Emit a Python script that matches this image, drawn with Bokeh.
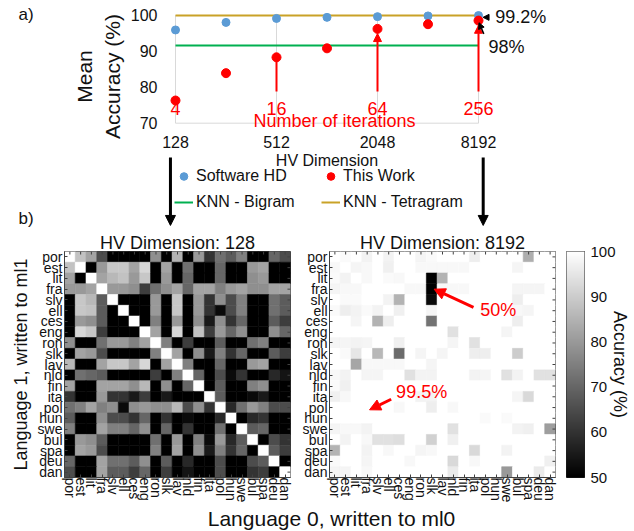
import math
from bokeh.plotting import figure
from bokeh.layouts import column, row
from bokeh.models import (Range1d, FactorRange, FixedTicker, PrintfTickFormatter, Arrow,
                          NormalHead, Label, Legend, LegendItem, ColumnDataSource,
                          LinearColorMapper, ColorBar)
from bokeh.embed import file_html
from bokeh.resources import INLINE
from bokeh.core.properties import value

FONT = "Liberation Sans"
TXT = "#111111"
RED = "#FF0000"

# ---------------- panel a) data ----------------
hv_dims = [128, 256, 512, 1024, 2048, 4096, 8192]
software_hd = [95.9, 98.0, 99.1, 99.4, 99.6, 99.8, 99.9]
this_work = [76.3, 83.9, 88.3, 90.8, 96.2, 97.5, 98.5]
knn_bigram = 91.6
knn_tetragram = 99.95
x_ticks = [128, 512, 2048, 8192]
y_ticks = [70, 80, 90, 100]
iter_dims = [128, 512, 2048, 8192]
iter_labels = ["4", "16", "64", "256"]
sw_note = "99.2%"
tw_note = "98%"

# ---------------- panel b) data ----------------
langs = ["por", "est", "lit", "fra", "slv", "ell", "ces", "eng", "ron", "slk", "lav",
         "nld", "fin", "ita", "pol", "hun", "swe", "bul", "spa", "deu", "dan"]

acc_128 = [
    [100, 88, 82, 65, 50, 50, 50, 50, 78, 50, 85, 50, 80, 60, 72, 68, 75, 50, 50, 70, 65],
    [88, 100, 50, 80, 89, 89, 82, 92, 50, 82, 50, 72, 50, 50, 70, 50, 50, 80, 82, 50, 50],
    [82, 50, 100, 82, 86, 88, 80, 89, 50, 80, 50, 70, 50, 50, 70, 50, 50, 78, 80, 50, 50],
    [80, 80, 82, 100, 80, 80, 78, 62, 72, 78, 82, 70, 82, 82, 75, 80, 82, 78, 78, 82, 82],
    [50, 89, 86, 68, 100, 50, 50, 50, 80, 50, 89, 50, 80, 60, 78, 65, 75, 50, 50, 72, 68],
    [50, 89, 88, 68, 50, 100, 50, 50, 80, 50, 89, 50, 80, 60, 52, 65, 75, 50, 50, 72, 68],
    [50, 80, 78, 68, 50, 50, 100, 50, 75, 50, 80, 50, 78, 55, 78, 60, 70, 50, 50, 68, 62],
    [50, 92, 89, 62, 50, 50, 50, 100, 82, 50, 92, 50, 88, 62, 80, 70, 78, 50, 50, 78, 70],
    [78, 50, 50, 72, 80, 80, 75, 82, 100, 75, 50, 62, 50, 50, 68, 50, 50, 72, 75, 50, 50],
    [50, 82, 80, 65, 50, 50, 50, 50, 75, 100, 82, 50, 78, 55, 75, 60, 70, 50, 50, 68, 62],
    [86, 50, 50, 82, 89, 89, 82, 92, 50, 82, 100, 75, 50, 50, 70, 50, 50, 80, 82, 50, 50],
    [50, 72, 70, 68, 50, 50, 50, 50, 62, 50, 75, 100, 70, 50, 65, 52, 60, 50, 50, 58, 54],
    [82, 50, 50, 82, 82, 82, 78, 86, 50, 78, 50, 70, 100, 50, 68, 50, 50, 75, 78, 50, 50],
    [60, 50, 50, 80, 60, 60, 55, 62, 50, 55, 50, 50, 50, 100, 68, 50, 50, 52, 55, 50, 50],
    [72, 75, 82, 75, 78, 52, 78, 80, 78, 78, 86, 65, 78, 60, 100, 58, 72, 80, 75, 65, 65],
    [68, 50, 50, 78, 65, 65, 60, 70, 50, 60, 50, 52, 50, 50, 58, 100, 50, 58, 60, 50, 50],
    [75, 50, 50, 82, 75, 75, 70, 78, 50, 70, 50, 60, 50, 50, 72, 50, 100, 68, 70, 50, 50],
    [50, 80, 78, 68, 50, 50, 50, 50, 72, 50, 80, 50, 75, 52, 80, 58, 68, 100, 50, 65, 60],
    [50, 82, 80, 65, 50, 50, 50, 50, 75, 50, 82, 50, 78, 55, 75, 60, 70, 50, 100, 68, 62],
    [70, 50, 50, 82, 72, 72, 68, 78, 50, 68, 50, 58, 50, 50, 65, 50, 50, 65, 68, 100, 50],
    [65, 50, 50, 82, 68, 68, 62, 70, 50, 62, 50, 54, 50, 50, 65, 50, 50, 60, 62, 50, 100],
]

acc_8192 = [
    [100, 99, 100, 97.5, 100, 97.5, 100, 100, 98, 99, 100, 100, 100, 96.5, 100, 100, 100, 100, 84, 100, 100],
    [98.5, 100, 98, 98.5, 100, 97, 100, 100, 98.5, 98.5, 98.5, 98.5, 98.5, 100, 100, 100, 100, 98, 100, 100, 100],
    [99, 97.5, 100, 98.5, 100, 99, 98.5, 100, 100, 50, 85, 100, 100, 100, 100, 100, 100, 100, 100, 100, 100],
    [98, 98.5, 98.5, 100, 100, 100, 100, 98.5, 98.5, 50, 98.5, 98.5, 98.5, 100, 100, 100, 100, 98, 98, 98, 100],
    [100, 99, 99, 100, 100, 97.5, 85, 100, 100, 52, 100, 100, 100, 100, 100, 100, 100, 96.5, 100, 100, 100],
    [99, 96.5, 97.5, 99, 97.5, 100, 97, 100, 100, 98, 100, 100, 100, 100, 99, 100, 100, 98.5, 98, 100, 100],
    [100, 100, 98, 100, 85, 96.5, 100, 100, 100, 72.5, 100, 100, 100, 100, 100, 100, 100, 96.5, 100, 100, 100],
    [100, 100, 100, 100, 100, 100, 100, 100, 100, 100, 100, 94, 100, 100, 100, 100, 98, 100, 100, 100, 100],
    [98, 98, 97.5, 98, 100, 100, 97, 100, 100, 100, 100, 98, 100, 94, 100, 100, 100, 100, 100, 100, 100],
    [100, 99, 95, 100, 86, 100, 71, 100, 98, 100, 98, 100, 100, 96.5, 96.5, 100, 100, 90, 100, 100, 100],
    [100, 100, 82.5, 98.5, 98.5, 98.5, 98.5, 100, 100, 98, 100, 100, 100, 100, 100, 100, 100, 100, 100, 100, 100],
    [98.5, 97.5, 100, 98, 98, 100, 100, 94, 97.5, 97.5, 100, 100, 100, 97.5, 98, 100, 94, 97.5, 100, 94, 94],
    [99, 97, 100, 100, 100, 100, 100, 100, 100, 100, 100, 100, 100, 100, 100, 100, 100, 100, 100, 100, 100],
    [97, 98.5, 100, 100, 100, 100, 100, 100, 97.5, 97.5, 100, 100, 100, 100, 100, 100, 100, 98, 92.5, 100, 100],
    [100, 100, 100, 100, 100, 100, 98.5, 100, 100, 96.5, 100, 98.5, 100, 100, 100, 100, 100, 100, 100, 100, 100],
    [100, 100, 100, 100, 100, 100, 100, 100, 100, 100, 100, 100, 100, 100, 99, 100, 99, 100, 100, 100, 100],
    [98, 98.5, 98.5, 97.5, 100, 100, 100, 100, 100, 100, 100, 94, 100, 100, 100, 100, 100, 97.5, 97, 100, 81],
    [100, 97.5, 100, 98.5, 94, 94, 93.5, 100, 100, 91, 100, 97, 100, 100, 100, 100, 100, 100, 100, 100, 100],
    [85, 100, 100, 97.5, 100, 98.5, 100, 100, 98, 98.5, 100, 100, 100, 92.5, 100, 100, 97.5, 100, 100, 100, 100],
    [99, 100, 100, 98, 100, 100, 100, 98.5, 100, 100, 100, 92.5, 100, 98.5, 100, 100, 100, 100, 100, 100, 97],
    [98, 98, 100, 98.5, 100, 100, 100, 100, 100, 100, 100, 96, 100, 100, 100, 100, 80, 100, 100, 96, 100],
]
cbar_ticks = [50, 60, 70, 80, 90, 100]

# =============== panel a) (frame spans the whole top strip) ===============
W, H_TOP = 634, 227
OCT_PX, UNIT_PX = 50.5, 3.6          # pixels per octave / per % point
X0_PX, Y100_PX, Y70_PX = 175, 14.7, 122.7
x_lo = x_ticks[0] * 2 ** (-X0_PX / OCT_PX)
x_hi = x_ticks[0] * 2 ** ((W - X0_PX) / OCT_PX)
y_lo = y_ticks[0] - (H_TOP - Y70_PX) / UNIT_PX
y_hi = y_ticks[-1] + Y100_PX / UNIT_PX

pa = figure(x_axis_type="log", x_range=Range1d(x_lo, x_hi), y_range=Range1d(y_lo, y_hi),
            frame_width=W, frame_height=H_TOP, min_border=0,
            toolbar_location=None, output_backend="svg", outline_line_color=None)
pa.xgrid.grid_line_color = None
pa.ygrid.grid_line_color = None

GRID = "#d9d9d9"
pa.segment(x0=x_ticks, y0=[y_ticks[0]] * len(x_ticks), x1=x_ticks, y1=[y_ticks[-1]] * len(x_ticks),
           line_color=GRID, line_width=1)
pa.segment(x0=[x_ticks[0]], y0=[y_ticks[0]], x1=[x_ticks[-1]], y1=[y_ticks[0]],
           line_color=GRID, line_width=1)

r_big = pa.line([hv_dims[0], hv_dims[-1]], [knn_bigram] * 2, line_color="#00B050", line_width=2)
r_tet = pa.line([hv_dims[0], hv_dims[-1]], [knn_tetragram] * 2, line_color="#C9A227", line_width=2)
r_sw = pa.scatter(hv_dims, software_hd, size=8, color="#5B9BD5")
r_tw = pa.scatter(hv_dims, this_work, size=9, color=RED)

# axes drawn inside the frame at fixed positions
pa.xaxis.ticker = FixedTicker(ticks=x_ticks)
pa.xaxis.formatter = PrintfTickFormatter(format="%d")
pa.yaxis.ticker = FixedTicker(ticks=y_ticks)
for ax in (pa.xaxis, pa.yaxis):
    ax.axis_line_color = None
    ax.major_tick_line_color = None
    ax.minor_tick_line_color = None
    ax.major_tick_in = 0
    ax.major_tick_out = 0
    ax.major_label_text_font = FONT
    ax.major_label_text_font_size = "16px"
    ax.major_label_text_color = TXT
    ax.axis_label_text_font = FONT
    ax.axis_label_text_font_style = "normal"
    ax.axis_label_text_color = TXT
pa.xaxis.fixed_location = y_ticks[0]
pa.xaxis.bounds = (x_ticks[0], x_ticks[-1])
pa.xaxis.major_label_standoff = 13
pa.xaxis.axis_label = "HV Dimension"
pa.xaxis.axis_label_text_font_size = "16px"
pa.xaxis.axis_label_standoff = 0
pa.yaxis.fixed_location = x_ticks[0]
pa.yaxis.bounds = (66, y_ticks[-1])
pa.yaxis.major_label_standoff = 18
pa.yaxis.axis_label = "Mean\nAccuracy (%)"
pa.yaxis.axis_label_text_font_size = "21px"
pa.yaxis.axis_label_standoff = 4

# iteration annotations
pa.text(x=iter_dims, y=[74.1] * len(iter_dims), text=iter_labels, text_color=RED,
        text_font=value(FONT), text_font_size="18px", text_align="center", text_baseline="middle")
pa.add_layout(Label(x=x_ticks[0] * 2 ** 3.15, y=70.5, text="Number of iterations", text_color=RED,
                    text_font=FONT, text_font_size="18px", text_align="center",
                    text_baseline="middle"))
for d in iter_dims[1:]:
    i = hv_dims.index(d)
    if d == 512:
        head, tip = None, this_work[i]
    else:
        head = NormalHead(size=8, fill_color=RED, line_color=RED)
        tip = this_work[i] - 1.3
    pa.add_layout(Arrow(end=head, x_start=d, y_start=78.8, x_end=d, y_end=tip,
                        line_color=RED, line_width=2))

# value call-outs at 8192
pa.add_layout(Arrow(end=NormalHead(size=6, fill_color="black", line_color="black"),
                    x_start=hv_dims[-1] * 2 ** 0.2, y_start=99.4,
                    x_end=hv_dims[-1] * 2 ** 0.09, y_end=99.4, line_color="black", line_width=1.5))
pa.add_layout(Label(x=hv_dims[-1] * 2 ** 0.33, y=99.4, text=sw_note, text_font=FONT,
                    text_font_size="18px", text_color=TXT, text_baseline="middle"))
pa.add_layout(Arrow(end=NormalHead(size=6, fill_color="black", line_color="black"),
                    x_start=hv_dims[-1] * 2 ** 0.105, y_start=94.8,
                    x_end=hv_dims[-1] * 2 ** 0.01, y_end=97.9, line_color="black", line_width=1.5))
pa.add_layout(Label(x=hv_dims[-1] * 2 ** 0.2, y=91.1, text=tw_note, text_font=FONT,
                    text_font_size="18px", text_color=TXT, text_baseline="middle"))

# arrows down to panel b)
for xa in (x_ticks[0] * 2 ** -0.1, x_ticks[-1] * 2 ** 0.093):
    pa.add_layout(Arrow(end=NormalHead(size=10, fill_color="black", line_color="black"),
                        x_start=xa, y_start=60.5, x_end=xa, y_end=41.6,
                        line_color="black", line_width=3))

# panel letters
pa.add_layout(Label(x=18, y=H_TOP - 14, x_units="screen", y_units="screen", text="a)",
                    text_font=FONT, text_font_size="17px", text_color=TXT, text_baseline="middle"))
pa.add_layout(Label(x=18, y=H_TOP - 218, x_units="screen", y_units="screen", text="b)",
                    text_font=FONT, text_font_size="17px", text_color=TXT, text_baseline="middle"))

legend = Legend(items=[LegendItem(label="Software HD", renderers=[r_sw]),
                       LegendItem(label="This Work", renderers=[r_tw]),
                       LegendItem(label="KNN - Bigram", renderers=[r_big]),
                       LegendItem(label="KNN - Tetragram", renderers=[r_tet])],
                location=(174, H_TOP - 212), orientation="horizontal", ncols=2,
                glyph_width=19, glyph_height=20, label_height=20, label_width=119,
                label_standoff=3, spacing=6, padding=0, margin=0,
                border_line_color=None, background_fill_alpha=0,
                label_text_font=FONT, label_text_font_size="16px", label_text_color=TXT)
pa.add_layout(legend)

# =============== panel b) ===============
grays = ["#%02x%02x%02x" % (v, v, v) for v in range(256)]
mapper = LinearColorMapper(palette=grays, low=50, high=100)
EDGE = "#404040"
TICK = 0.28   # inward tick length on the top/right edges, in cells


def style_axis(ax):
    ax.axis_line_color = EDGE
    ax.major_tick_line_color = EDGE
    ax.major_tick_in = 3
    ax.major_tick_out = 0
    ax.major_label_standoff = 2
    ax.major_label_text_font = FONT
    ax.major_label_text_font_size = "14px"
    ax.major_label_text_color = TXT
    ax.axis_label_text_font = FONT
    ax.axis_label_text_font_style = "normal"
    ax.axis_label_text_color = TXT


def heatmap(mat, title, b_left, b_right, b_top, b_bottom, ylabel=None):
    n = len(langs)
    src = ColumnDataSource(dict(
        x=[langs[c] for r in range(n) for c in range(n)],
        y=[langs[r] for r in range(n) for c in range(n)],
        acc=[mat[r][c] for r in range(n) for c in range(n)],
    ))
    h = figure(x_range=FactorRange(*langs), y_range=FactorRange(*langs[::-1]),
               frame_width=226, frame_height=226,
               min_border_left=b_left, min_border_right=b_right,
               min_border_top=b_top, min_border_bottom=b_bottom,
               toolbar_location=None, output_backend="svg", title=title,
               outline_line_color=EDGE)
    h.rect(x="x", y="y", width=1, height=1, source=src,
           fill_color={"field": "acc", "transform": mapper},
           line_color={"field": "acc", "transform": mapper}, line_width=0.6)
    # tick marks on the top and right edges
    h.segment(x0=langs, y0=[n] * n, x1=langs, y1=[n - TICK] * n, line_color=EDGE, line_width=1)
    h.segment(x0=[n] * n, y0=langs, x1=[n - TICK] * n, y1=langs, line_color=EDGE, line_width=1)
    h.grid.grid_line_color = None
    h.title.text_font = FONT
    h.title.text_font_size = "18px"
    h.title.text_font_style = "normal"
    h.title.text_color = TXT
    h.title.align = "center"
    h.title.standoff = -3
    style_axis(h.xaxis[0])
    style_axis(h.yaxis[0])
    h.xaxis[0].major_label_orientation = "vertical"
    h.xaxis[0].major_label_standoff = 0
    if ylabel:
        h.yaxis[0].axis_label = ylabel
        h.yaxis[0].axis_label_text_font_size = "18px"
        h.yaxis[0].axis_label_standoff = 4
    return h


h1 = heatmap(acc_128, "HV Dimension: 128", 64, 8, 22, 28, "Language 1, written to ml1")
h2 = heatmap(acc_8192, "HV Dimension: 8192", 31, 11, 24, 28)

# call-outs on the 8192 map (synthetic categorical coordinates)
h2.add_layout(Arrow(end=NormalHead(size=11, fill_color=RED, line_color=RED),
                    x_start=13.38, y_start=15.8, x_end=9.72, y_end=17.5,
                    line_color=RED, line_width=3))
h2.add_layout(Label(x=14.0, y=15.6, text="50%", text_font=FONT, text_font_size="18px",
                    text_color=RED, text_baseline="middle"))
h2.add_layout(Arrow(end=NormalHead(size=11, fill_color=RED, line_color=RED),
                    x_start=5.73, y_start=7.27, x_end=3.72, y_end=6.29,
                    line_color=RED, line_width=3))
h2.add_layout(Label(x=6.19, y=7.9, text="99.5%", text_font=FONT, text_font_size="18px",
                    text_color=RED, text_baseline="middle"))

# colour scale as its own narrow figure with a right-hand axis
cbf = figure(x_range=Range1d(0, 1), y_range=Range1d(cbar_ticks[0], cbar_ticks[-1]),
             frame_width=18, frame_height=226, min_border_left=0, min_border_right=50,
             min_border_top=24, min_border_bottom=28, y_axis_location="right",
             x_axis_location=None, toolbar_location=None, output_backend="svg",
             outline_line_color="#222222")
cbf.grid.visible = False
cbar = ColorBar(color_mapper=mapper, location=(0, 0), width=18, height=226, padding=0, margin=0,
                ticker=FixedTicker(ticks=[]), major_tick_line_color=None,
                bar_line_color=None, border_line_color=None, background_fill_alpha=0,
                label_standoff=0)
cbf.add_layout(cbar)
cbf.yaxis.ticker = FixedTicker(ticks=cbar_ticks)
cbf.yaxis.axis_line_color = None
cbf.yaxis.major_tick_in = 4
cbf.yaxis.major_tick_out = 0
cbf.yaxis.minor_tick_line_color = None
cbf.yaxis.major_tick_line_color = "#222222"
cbf.yaxis.major_label_standoff = 6
cbf.yaxis.major_label_text_font = FONT
cbf.yaxis.major_label_text_font_size = "15px"
cbf.yaxis.major_label_text_color = TXT
cbf.yaxis.axis_label = "Accuracy (%)"
cbf.yaxis.axis_label_text_font = FONT
cbf.yaxis.axis_label_text_font_size = "18px"
cbf.yaxis.axis_label_text_font_style = "normal"
cbf.yaxis.axis_label_text_color = TXT
cbf.yaxis.axis_label_standoff = -9

# shared x-axis title for both maps
H_LAB = 26
lab = figure(width=W, height=H_LAB, x_range=Range1d(0, W), y_range=Range1d(0, H_LAB),
             min_border=0, x_axis_location=None, y_axis_location=None,
             toolbar_location=None, output_backend="svg", outline_line_color=None)
lab.grid.visible = False
lab.add_layout(Label(x=331, y=H_LAB - 12.5, text="Language 0, written to ml0", text_font=FONT,
                     text_font_size="21px", text_color=TXT, text_align="center",
                     text_baseline="middle"))

layout = column(pa, row(h1, h2, cbf), lab)
open("out.html", "w").write(file_html(layout, INLINE))
